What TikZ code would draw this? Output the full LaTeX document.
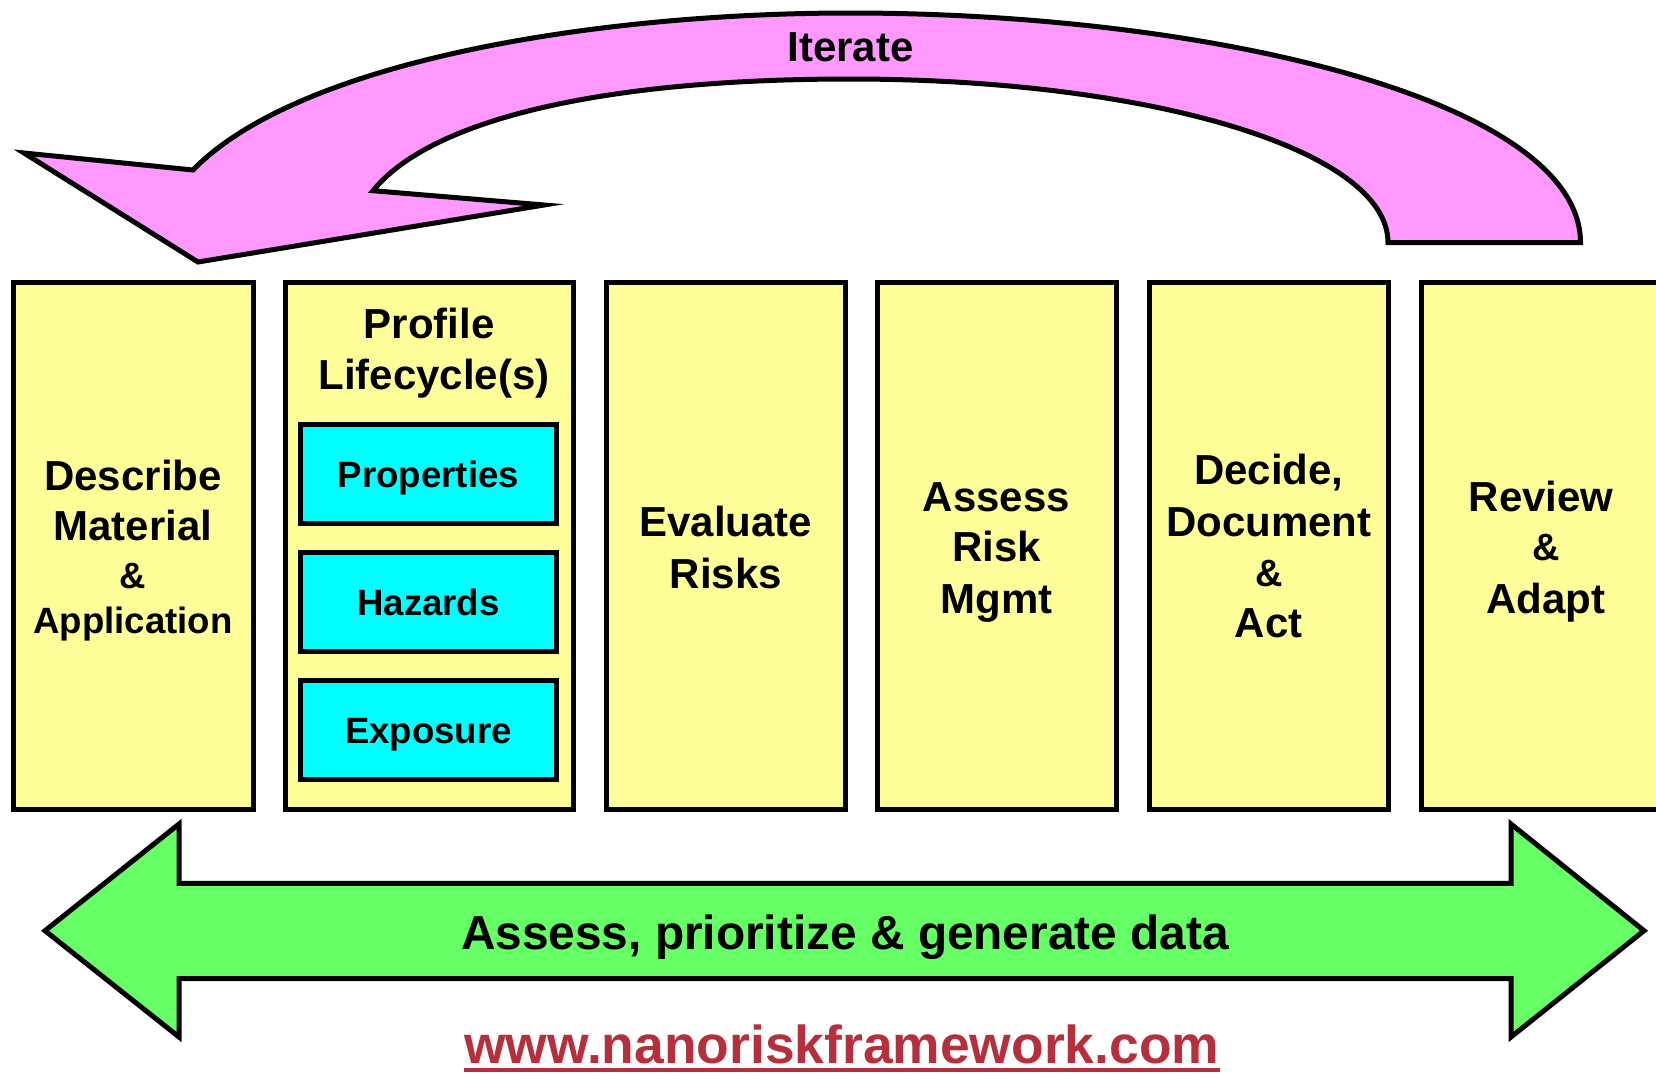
\documentclass[tikz,border=0pt]{standalone}
\usepackage{fontspec}
\setmainfont{Liberation Sans}
\definecolor{stageyellow}{HTML}{FFFF99}
\definecolor{subcyan}{HTML}{00FFFF}
\definecolor{looppink}{HTML}{FF99FF}
\definecolor{bandgreen}{HTML}{66FF66}
\definecolor{urlred}{HTML}{B5303C}
\begin{document}
\begin{tikzpicture}[x=0.5pt,y=-0.5pt,
  outline/.style={draw=black, line width=2.5pt, line join=miter},
  stage/.style={outline, fill=stageyellow, rectangle, inner sep=0pt,
    minimum height=263.6pt},
  subbox/.style={outline, fill=subcyan, rectangle, inner sep=0pt,
    minimum width=128.3pt, minimum height=49.5pt,
    font=\bfseries\fontsize{18.3}{22}\selectfont,
    text height=13.1pt, text depth=0pt},
  lbl/.style={anchor=base, inner sep=0pt, font=\bfseries\fontsize{21}{25}\selectfont},
  lblsmall/.style={anchor=base, inner sep=0pt, font=\bfseries\fontsize{18.3}{22}\selectfont},
  amp/.style={anchor=base, inner sep=0pt, font=\bfseries\fontsize{19}{23}\selectfont}]
\useasboundingbox (0,0) rectangle (1656,1073);
\clip (0,0) rectangle (1656,1073);

% iterate loop arrow
\draw[outline, fill=looppink]
  (1580.5,242.5) .. controls (1580,100) and (1210,13) .. (850,13)
  .. controls (600,13) and (300,60) .. (193,170)
  -- (24,153) -- (198,262) -- (544,205) -- (373,190.7)
  .. controls (430,120) and (600,79) .. (850,79)
  .. controls (1150,79) and (1388,150) .. (1388,242.5) -- cycle;
\node[lbl] (iter) at (850.5,61.7) {Iterate};

% stage columns
\node[stage, minimum width=120pt]   (b1) at (133,546.1) {};
\node[stage, minimum width=144pt]   (b2) at (429,546.1) {};
\node[stage, minimum width=119.25pt] (b3) at (725.75,546.1) {};
\node[stage, minimum width=119.5pt] (b4) at (996.5,546.1) {};
\node[stage, minimum width=119.25pt] (b5) at (1268.75,546.1) {};
\node[stage, minimum width=120pt]   (b6) at (1541,546.1) {};

% column 1
\node[lbl]      (b1a) at (133,490) {Describe};
\node[lbl]      (b1b) at (133,540) {Material};
\node[lblsmall] (b1c) at (133,588) {\&};
\node[lblsmall] (b1d) at (133,633.3) {Application};

% column 2
\node[lbl] (b2a) at (429,338) {Profile};
\node[lbl] (b2b) at (434,389) {Lifecycle(s)};
\node[subbox] (prop) at (428.5,474.2) {Properties};
\node[subbox] (haz)  at (428.5,602)   {Hazards};
\node[subbox] (expo) at (428.5,730.3) {Exposure};

% column 3
\node[lbl] (b3a) at (725.75,536.7) {Evaluate};
\node[lbl] (b3b) at (725.75,588.3) {Risks};

% column 4
\node[lbl] (b4a) at (996.5,511) {Assess};
\node[lbl] (b4b) at (996.5,561.7) {Risk};
\node[lbl] (b4c) at (996.5,613.3) {Mgmt};

% column 5
\node[lbl] (b5a) at (1268.75,484.3) {Decide,};
\node[lbl] (b5b) at (1268.75,536) {Document};
\node[amp] (b5c) at (1268.75,586.7) {\&};
\node[lbl] (b5d) at (1268.75,637.3) {Act};

% column 6
\node[lbl] (b6a) at (1541.3,511) {Review};
\node[amp] (b6b) at (1546,560) {\&};
\node[lbl] (b6c) at (1546,613.3) {Adapt};

% double-headed band
\draw[outline, fill=bandgreen]
  (45,930.7) -- (179,824) -- (179,883.3) -- (1511,883.3) -- (1511,824)
  -- (1644,930.7) -- (1511,1037) -- (1511,978.7) -- (179,978.7)
  -- (179,1037) -- cycle;
\node[anchor=base, inner sep=0pt, font=\bfseries\fontsize{23.9}{28}\selectfont]
  (band) at (845,949) {Assess, prioritize \& generate data};

% web address
\node[anchor=base, inner sep=0pt, text=urlred, font=\bfseries\fontsize{26.7}{31}\selectfont]
  (url) at (841.8,1063.3) {www.nanoriskframework.com};
\draw[urlred, line width=2pt] ([yshift=-3.4pt]url.base west) -- ([yshift=-3.4pt]url.base east);
\end{tikzpicture}
\end{document}
